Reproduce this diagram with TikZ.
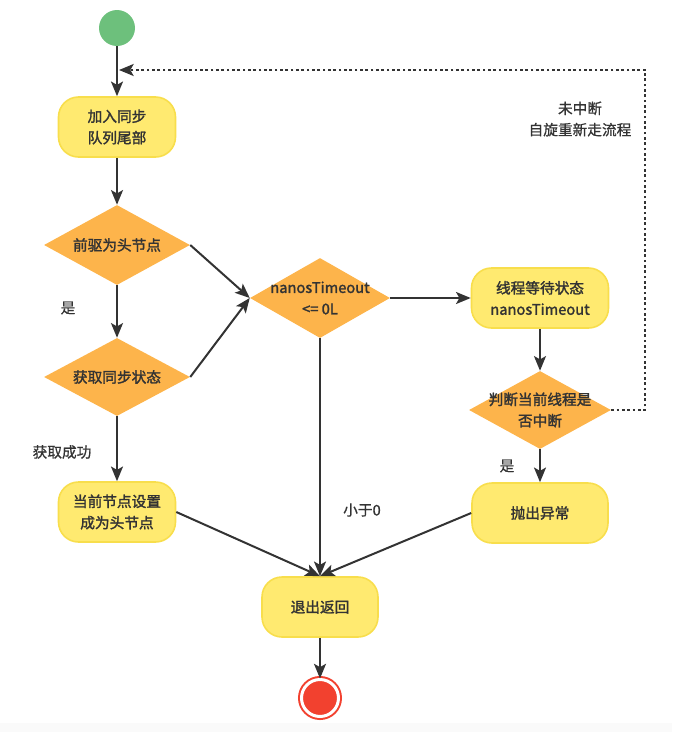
\documentclass[tikz,border=0pt]{standalone}
\usepackage{fontspec}
\setmainfont{Noto Sans CJK SC}[AutoFakeBold=1.8]
\newfontfamily\medfont{Noto Sans CJK SC}[FakeBold=0.8]
\usetikzlibrary{arrows.meta,positioning,shapes.geometric}
\definecolor{NodeYellow}{HTML}{FFEA70}
\definecolor{NodeYellowEdge}{HTML}{F8DE4C}
\definecolor{DiaOrange}{HTML}{FDB44B}
\definecolor{StartGreen}{HTML}{6DC07C}
\definecolor{StopRed}{HTML}{F2412F}
\definecolor{InkGray}{HTML}{333333}
\newlength\unitpx
\setlength\unitpx{0.75pt}

\begin{document}
\begin{tikzpicture}[
    x=\unitpx,y=-\unitpx,
    every node/.style={font=\fontsize{11}{16}\selectfont,text=InkGray},
    box/.style={draw=NodeYellowEdge,fill=NodeYellow,line width=1.2pt,rounded corners=15pt,minimum width=117\unitpx,minimum height=60\unitpx,align=center,font=\fontsize{11}{16}\selectfont\bfseries},
    dia/.style={diamond,fill=DiaOrange,minimum width=146\unitpx,minimum height=80\unitpx,inner sep=0pt},
    dtext/.style={align=center,font=\fontsize{11}{16}\selectfont\bfseries,text=InkGray},
    lbl/.style={align=center,font=\fontsize{11}{16}\selectfont\medfont},
    arr/.style={-{Stealth[length=11pt,width=9pt,inset=2.5pt]},InkGray,line width=1.5pt},
    retline/.style={arr,dash pattern=on 2pt off 2pt}
  ]
    \useasboundingbox (0,0) rectangle (672,732);
    \fill[black!2] (0,723) rectangle (672,732);

    \node[circle,fill=StartGreen,minimum size=36\unitpx,inner sep=0pt] (start) at (117,28) {};
    \node[box] (enqueue) at (117,127) {加入同步\\队列尾部};
    \node[dia,label={[dtext]center:前驱为头节点}] (prevhead) at (117,245) {};
    \node[dia,minimum height=78\unitpx,label={[dtext]center:获取同步状态}] (acquire) at (117,377) {};
    \node[box] (sethead) at (117,512) {当前节点设置\\成为头节点};
    \node[dia,minimum width=140\unitpx,label={[dtext]center:nanosTimeout\\<= 0L}] (timeout) at (320,298) {};
    \node[box,minimum width=137\unitpx] (park) at (540,298) {线程等待状态\\nanosTimeout};
    \node[dia,minimum width=142\unitpx,minimum height=78\unitpx,label={[dtext]center:判断当前线程是\\否中断}] (interrupt) at (540,410) {};
    \node[box,minimum width=136\unitpx] (throwex) at (540,513) {抛出异常};
    \node[box,minimum width=116\unitpx] (exitret) at (320,607) {退出返回};
    \node[circle,fill=StopRed,draw=StopRed,line width=2\unitpx,double=white,double distance=3\unitpx,minimum size=37\unitpx,inner sep=0pt] (stop) at (320,698) {};

    \node[lbl] (yes1) at (68,308) {是};
    \node[lbl] (okay) at (62,452) {获取成功};
    \node[lbl] (neg) at (362,510) {小于0};
    \node[lbl] (yes2) at (507,466) {是};
    \node[lbl] (spin) at (580,119) {未中断\\自旋重新走流程};

    \coordinate (ret) at (119,70);
    \coordinate (corner) at (645,70);

    \draw[arr] (start) -- (enqueue);
    \draw[arr] (enqueue) -- (prevhead);
    \draw[arr] (prevhead) -- (acquire);
    \draw[arr] (acquire) -- (sethead);
    \draw[arr] (prevhead.east) -- (timeout.west);
    \draw[arr] (acquire.east) -- (timeout.west);
    \draw[arr] (timeout) -- (park);
    \draw[arr] (park) -- (interrupt);
    \draw[arr] (interrupt) -- (throwex);
    \draw[arr] (timeout) -- (exitret);
    \draw[arr] (sethead.east) -- (exitret.north);
    \draw[arr] (throwex.west) -- (exitret.north);
    \draw[arr] (exitret) -- (stop);
    \draw[retline] (interrupt.east) -| (corner) -- (ret);
  \end{tikzpicture}
\end{document}
